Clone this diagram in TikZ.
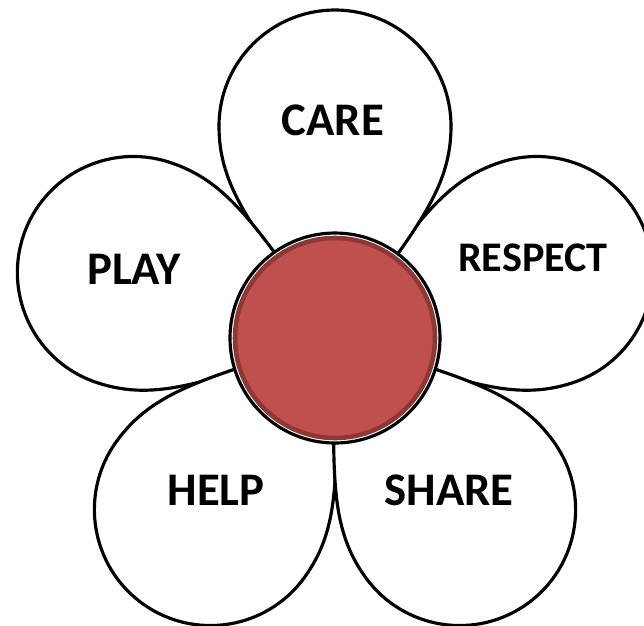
\documentclass[tikz,border=0pt]{standalone}
\usepackage{fontspec}
\setmainfont{Carlito}
\definecolor{centrefill}{HTML}{C0504D}
\definecolor{centreedge}{HTML}{8C3836}
\tikzset{
  petal/.style={draw=black, fill=white, line width=0.9pt},
  word/.style={font=\bfseries\fontsize{13.3}{15}\selectfont, text=black, inner sep=0pt},
}

\begin{document}
\begin{tikzpicture}
\useasboundingbox (0,0) rectangle (6.44,6.25);
\clip (0,0) rectangle (6.44,6.25);

% petals
\foreach \ang in {18,90,162,234,306} {
  \begin{scope}[shift={(3.35,2.87)}, rotate=\ang]
  \draw[petal] (0,0) .. controls (1.1,0.83) and (1.5,1.16) .. (2.12,1.16)
     arc (90:-90:1.16) .. controls (1.5,-1.16) and (1.1,-0.83) .. cycle;
  \end{scope}
}

% centre
\node (rim) [circle, draw, fill=white, line width=0.9pt, minimum size=2.1cm, inner sep=0pt] at (3.35,2.87) {};
\node (centre) [circle, draw=centreedge, fill=centrefill, line width=1.3pt, minimum size=2.0cm, inner sep=0pt] at (rim) {};

% words
\node (care)    [word] at (3.33,5.05) {CARE};
\node (play)    [word] at (1.34,3.56) {PLAY};
\node (respect) [word, font=\bfseries\fontsize{12}{14}\selectfont] at (5.33,3.67) {RESPECT};
\node (help)    [word] at (2.16,1.35) {HELP};
\node (share)   [word] at (4.49,1.35) {SHARE};

\end{tikzpicture}
\end{document}
